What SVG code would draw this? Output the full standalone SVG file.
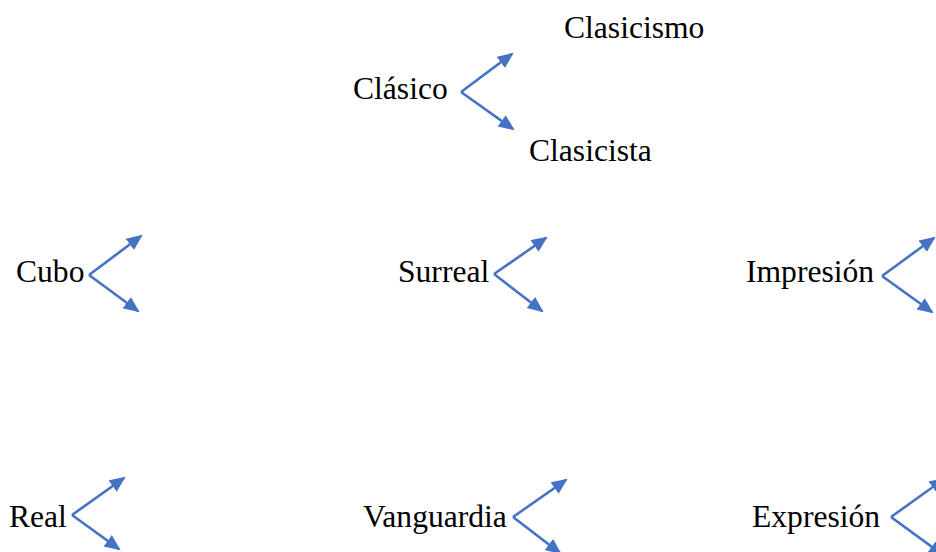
<svg xmlns="http://www.w3.org/2000/svg" width="936" height="552" viewBox="0 0 936 552">
<defs>
<style>
.t{font-family:"Liberation Serif","Times New Roman",serif;font-size:31.6px;fill:#000}
.c{stroke:#4472C4;stroke-width:2.6;fill:none;marker-end:url(#ah)}
</style>
<marker id="ah" markerUnits="userSpaceOnUse" markerWidth="18" markerHeight="16" refX="14" refY="7" orient="auto">
<path d="M0,0 L16,7 L0,14 z" fill="#4472C4"/>
</marker>
</defs>
<rect width="936" height="552" fill="#fff"/>
<g id="n-clasicismo"><text class="t" x="564" y="38">Clasicismo</text></g>
<g id="n-clasico"><text class="t" x="353" y="99">Clásico</text></g>
<g id="n-clasicista"><text class="t" x="529" y="161">Clasicista</text></g>
<g id="n-cubo"><text class="t" x="16" y="282">Cubo</text></g>
<g id="n-surreal"><text class="t" x="398" y="282">Surreal</text></g>
<g id="n-impresion"><text class="t" x="746" y="282">Impresión</text></g>
<g id="n-real"><text class="t" x="9" y="527">Real</text></g>
<g id="n-vanguardia"><text class="t" x="363" y="527">Vanguardia</text></g>
<g id="n-expresion"><text class="t" x="752" y="527">Expresión</text></g>
<g id="connectors">
<path class="c" d="M461,92 L512,54"/>
<path class="c" d="M461,92 L513,129"/>
<path class="c" d="M89,275 L141,236"/>
<path class="c" d="M89,275 L138,311"/>
<path class="c" d="M494,274 L546,238"/>
<path class="c" d="M494,274 L542,311"/>
<path class="c" d="M882,276 L934,238"/>
<path class="c" d="M882,276 L932,312"/>
<path class="c" d="M72,515 L124,478"/>
<path class="c" d="M72,515 L119,549"/>
<path class="c" d="M513,517 L566,480"/>
<path class="c" d="M513,517 L560,553"/>
<path class="c" d="M891,517 L944,479"/>
<path class="c" d="M891,517 L943,555"/>
</g>
</svg>
